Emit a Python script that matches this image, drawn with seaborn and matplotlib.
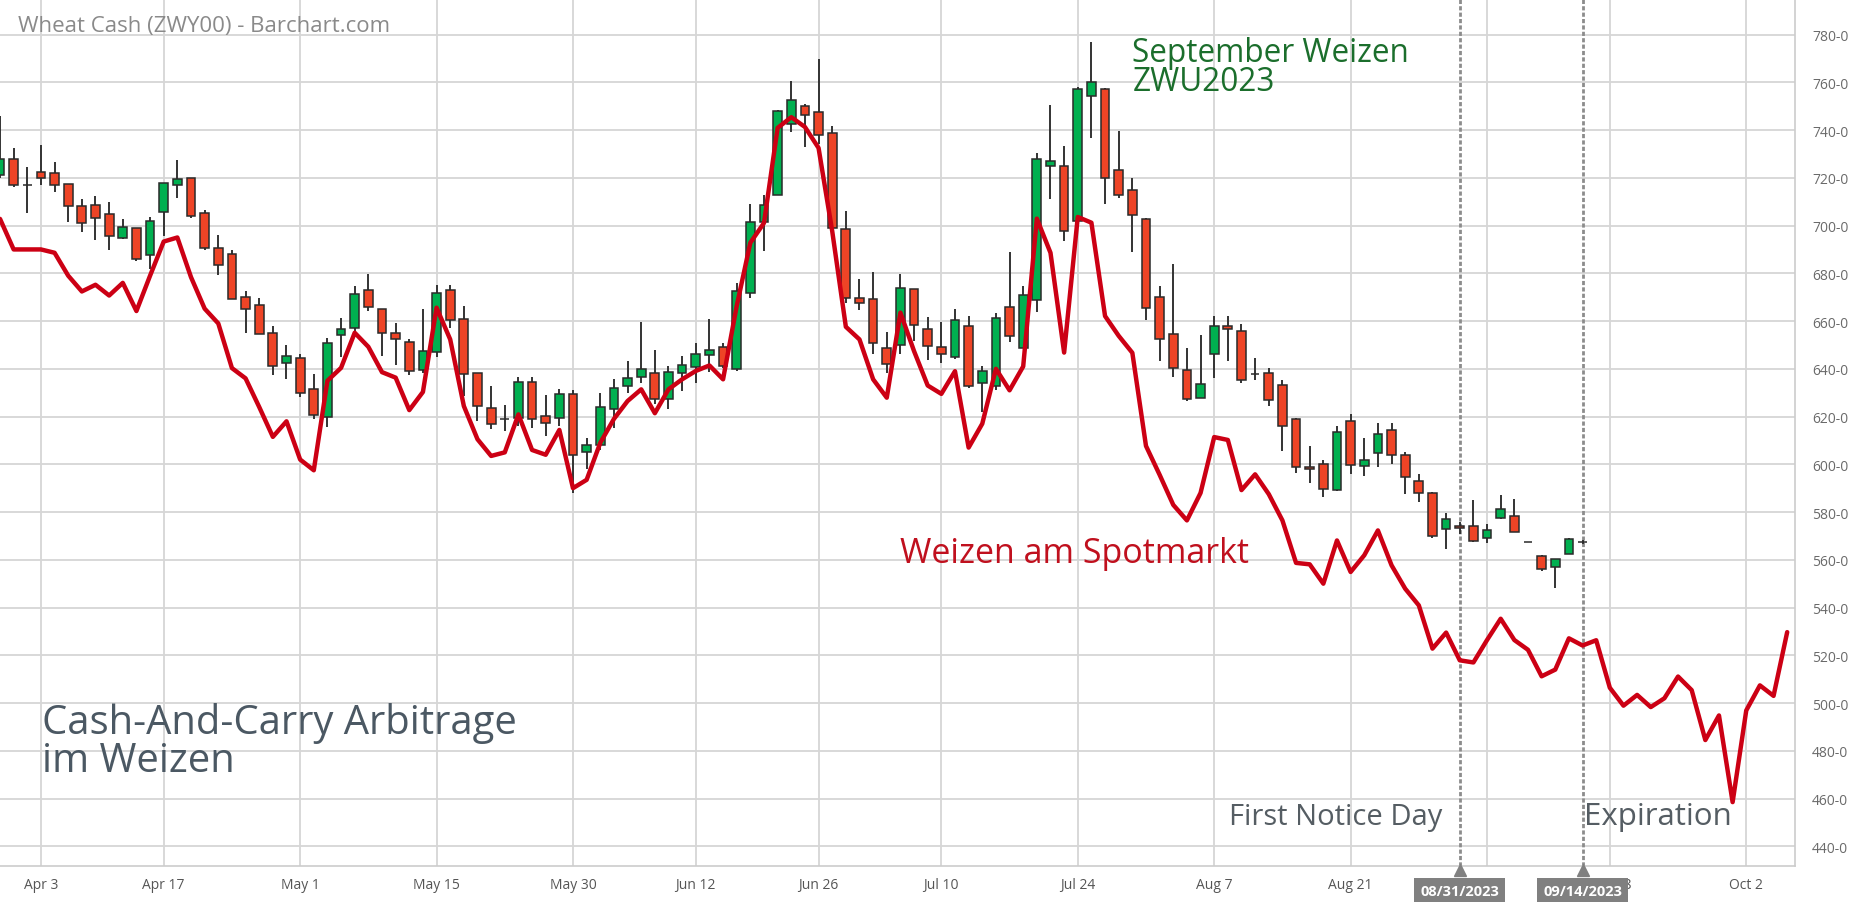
import numpy as np
import pandas as pd
import matplotlib
matplotlib.use("Agg")
import matplotlib.pyplot as plt
import matplotlib.transforms as mtransforms
import seaborn as sns

# trading days shown on the chart (CBOT, holidays skipped)
holidays = ["2023-04-07", "2023-05-29", "2023-06-19", "2023-07-04", "2023-09-04"]
days = pd.bdate_range("2023-03-29", "2023-10-05", freq="C", holidays=holidays)

# September wheat futures ZWU2023 (candles, until expiration)
fut_open = [721, 728, 717, 722.3, 722, 717.6, 708.3, 708.7, 705, 694.7,
            698.9, 687.8, 705.6, 716.8, 720, 705.2, 690.5, 688.2, 670, 666.8,
            655, 642.3, 644.6, 631.7, 620, 654, 657.2, 673.2, 665.1, 654.8,
            651.2, 639.7, 647, 673.2, 660.7, 638.4, 623.6, 618.8, 619.5, 634.6,
            620.2, 619.4, 629.6, 605, 608, 623, 632.8, 636.7, 638.4, 627.2,
            638.1, 640.9, 645.9, 649.3, 639.8, 671.9, 701.4, 713, 742.6, 750.2,
            747.4, 738.8, 698.4, 669.8, 669.1, 648.8, 649.8, 673.5, 656.8, 649.3,
            645.1, 658, 634, 633, 666, 648.9, 668.8, 724.9, 724.9, 701.9,
            754.2, 757, 723.2, 714.7, 702.6, 670.1, 654.6, 639.5, 627.9, 646.2,
            658, 655.8, 637.8, 638.4, 633.2, 619, 599, 600.2, 589.3, 618.3,
            599.3, 604.6, 614.5, 604, 593.2, 588.1, 573, 574, 574, 569.1,
            577.5, 578.3, 567.4, 561.6, 557.1, 562.6, 567.5]
fut_high = [746, 732.4, 724.4, 733.8, 726.5, 717.6, 711.2, 712.2, 710, 702.7,
            698.9, 703.5, 717.9, 727.4, 720, 706.6, 696.1, 689.6, 672.4, 669.6,
            657.9, 649.8, 646, 637.7, 653, 661.4, 674.6, 679.9, 665.1, 659,
            652.3, 664.9, 674.9, 675.2, 666.2, 638.4, 632.8, 625, 636.5, 636.5,
            628.9, 631.7, 631, 611, 630, 635.6, 643.3, 659.6, 647.9, 641.2,
            645.4, 650.7, 661, 650.7, 676, 709.2, 713, 748.6, 760.4, 751.1,
            769.9, 741.6, 706, 677.7, 680.5, 655.4, 679.8, 673.5, 661.9, 659.8,
            665.2, 662, 641.2, 663.3, 689, 674.7, 730.5, 750.7, 733.3, 758,
            776.9, 757.5, 739.8, 720, 703, 674.7, 683.8, 648.6, 654.1, 662,
            662, 658.6, 644.4, 640.2, 635.3, 619.3, 607.7, 601.6, 616.2, 621,
            610.9, 617.2, 617.5, 605, 596, 588.6, 579.6, 576, 585.2, 575.1,
            587.3, 585.3, 567.4, 562, 560.5, 569, 568.5]
fut_low = [720, 716, 705.2, 716.8, 714, 701.4, 697.5, 694, 689.6, 694.4,
           685, 681.6, 695.6, 711.5, 703.1, 689.6, 679.1, 669.3, 655.1, 654.6,
           637.5, 635.9, 628, 619.1, 615.8, 645, 655, 664.2, 645.3, 641.4,
           637.2, 638.1, 645, 657, 628.6, 618.1, 614.6, 614, 616, 615.3,
           611.9, 616, 588, 598, 606, 615.4, 630, 634.2, 625.1, 623,
           630.7, 634.2, 638.7, 640.5, 639.1, 669.8, 689.3, 713, 739.1, 732.9,
           734, 698, 667.7, 664.6, 646, 638.1, 646, 651.6, 643.7, 642.3,
           644, 632, 622, 631, 651.3, 648.9, 663.8, 711.2, 693.5, 700,
           736.5, 709.1, 711.7, 689.1, 660.3, 643.3, 636.7, 626.5, 627.9, 636.3,
           643.3, 633.9, 635.3, 624.6, 605.6, 596.3, 592.1, 586.5, 588.9, 595.8,
           594.9, 599, 600, 587.7, 584.2, 569.1, 564.7, 571, 567.4, 567.2,
           576.9, 571.6, 567.4, 555.5, 548, 562.6, 566.5]
fut_close = [728, 716.8, 717, 719.8, 716.8, 708.4, 700.9, 703.1, 695.6, 699.6,
             686.1, 702.1, 717.9, 719.6, 704.2, 690.5, 683.3, 669.3, 665.2, 654.6,
             641.2, 645.4, 630, 620.5, 650.6, 656.8, 671.4, 665.8, 655.1, 652.6,
             639.1, 647.3, 671.8, 660.3, 637.7, 624.4, 617, 618.8, 634.4, 618.8,
             617.2, 629.6, 604, 608, 624.2, 632.1, 636.3, 640.1, 627.5, 638.8,
             641.8, 646, 647.9, 641.2, 672.6, 701.4, 708.7, 748.1, 752.5, 746.5,
             738.1, 699.1, 669.8, 667.4, 650.9, 641.9, 674, 658.2, 649.6, 646.1,
             660.3, 633, 639, 661.4, 653.8, 670.8, 727.7, 727, 697.6, 757.4,
             760.2, 720, 712.6, 704.3, 665.6, 652.4, 640.5, 627.4, 633.5, 657.9,
             656.5, 635.2, 637.8, 626.9, 616.2, 598.8, 598, 589.7, 613.7, 599.5,
             602, 612.7, 604, 594.5, 588.1, 570, 576.9, 573.3, 567.7, 572.6,
             581.1, 571.6, 567.4, 556.3, 560.2, 568.9, 567.5]

# wheat cash price (spot)
spot = [702.8, 690, 690, 690, 688.6, 679, 672.4, 675.2, 670.7, 676,
        664.2, 679, 693.3, 695, 678.4, 665.2, 659, 640.3, 636, 624,
        611.5, 618, 602, 597.5, 635, 640.4, 655.1, 649.2, 638.6, 636.3,
        622.7, 630.3, 665.6, 652.3, 624.4, 610.5, 603.5, 605, 620.9, 606,
        604, 614.4, 590, 593.5, 609, 619, 626.5, 631.4, 621.4, 631.4,
        635.6, 639.1, 641.4, 635.6, 666.3, 692.8, 701.1, 740.9, 745.4, 741.3,
        732.5, 697.7, 657.6, 652.3, 635.6, 627.9, 663.5, 647.4, 633, 629.5,
        639, 607, 617, 640, 631, 641, 702.9, 688.6, 646.8, 703.6,
        701.2, 662.1, 653.8, 646.7, 607.7, 595.6, 583, 576.5, 588, 611.4,
        610.2, 589.2, 595.8, 587.5, 576.5, 558.7, 558.1, 550, 568.1, 554.9,
        561.9, 572.3, 557.7, 547.9, 540.9, 522.8, 529.5, 517.9, 517, 526.4,
        535.3, 526.4, 522.3, 511.2, 514, 527.1, 524.1, 526.3, 506.4, 498.9,
        503.4, 498.3, 502, 511.1, 505.4, 484.5, 494.8, 458.5, 496.9, 507.4,
        503, 529.7]

tick_dates = ["2023-04-03", "2023-04-17", "2023-05-01", "2023-05-15", "2023-05-30",
              "2023-06-12", "2023-06-26", "2023-07-10", "2023-07-24", "2023-08-07",
              "2023-08-21", "2023-09-05", "2023-09-18", "2023-10-02"]
# Sep 5 sits under the 08/31 marker box, so it gets no text
tick_labels = ["Apr 3", "Apr 17", "May 1", "May 15", "May 30", "Jun 12", "Jun 26",
               "Jul 10", "Jul 24", "Aug 7", "Aug 21", "", "Sep 18", "Oct 2"]
y_ticks = list(range(440, 781, 20))

first_notice = "2023-08-31"
expiration = "2023-09-14"

fut = pd.DataFrame({"open": fut_open, "high": fut_high, "low": fut_low, "close": fut_close})
fut["x"] = np.arange(len(fut))
cash = pd.DataFrame({"day": np.arange(len(spot)), "price": spot})

sns.set_theme(style="white")
plt.rcParams["font.family"] = ["Open Sans", "DejaVu Sans"]

fig = plt.figure(figsize=(18.63, 9.03), dpi=100)
ax = fig.add_axes([0.0, 0.0395, 0.9637, 0.9605])

# grid
for v in y_ticks:
    ax.axhline(v, color="#d6d6d6", lw=1.3, zorder=0)
tick_pos = [days.get_loc(pd.Timestamp(d)) for d in tick_dates]
for p in tick_pos:
    ax.axvline(p, color="#d6d6d6", lw=1.3, zorder=0)

# candles
up = fut["close"] >= fut["open"]
colors = np.where(up, "#00b050", "#ee4426")
ax.vlines(fut["x"], fut["low"], fut["high"], color="#333333", lw=1.4, zorder=2)
ax.bar(fut["x"], fut["close"] - fut["open"], bottom=fut["open"], width=0.64,
       color=colors, edgecolor="#2a2a2a", linewidth=1.1, zorder=3)

# cash line
sns.lineplot(data=cash, x="day", y="price", color="#cc0014", lw=3.2, ax=ax, zorder=4)

# first notice day / expiration markers
trans = mtransforms.blended_transform_factory(ax.transData, ax.transAxes)
for d, lab in [(first_notice, "08/31/2023"), (expiration, "09/14/2023")]:
    p = days.get_loc(pd.Timestamp(d))
    ax.axvline(p, color="#8c8c8c", lw=2, ls=(0, (1.5, 0.8)), zorder=1)
    ax.text(p, -0.028, lab, transform=trans, ha="center", va="center",
            fontsize=10.5, fontweight="bold", color="white", zorder=10, clip_on=False,
            bbox=dict(boxstyle="square,pad=0.4", fc="#808080", ec="none"))
    ax.plot([p], [-0.004], transform=trans, marker="^", ms=8, color="#808080",
            clip_on=False, zorder=10)

# annotations
ax.text(0.0099, 0.970, "Wheat Cash (ZWY00) - Barchart.com", transform=ax.transAxes,
        fontsize=16, color="#8a8a8a", va="center", ha="left")
ax.text(83.0, 769, "September Weizen", fontsize=22.7, color="#1b6e2c", va="baseline")
ax.text(83.0, 756.6, "ZWU2023", fontsize=22.7, color="#1b6e2c", va="baseline")
ax.text(66.0, 559, "Weizen am Spotmarkt", fontsize=24.5, color="#c0101e", va="baseline")
ax.text(3.07, 487.3, "Cash-And-Carry Arbitrage", fontsize=28.8, color="#4b5863", va="baseline")
ax.text(3.07, 471.4, "im Weizen", fontsize=28.8, color="#4b5863", va="baseline")
ax.text(105.7, 449.5, "First Notice Day", fontsize=21, color="#555d63", va="baseline", ha="right")
ax.text(116.1, 449.5, "Expiration", fontsize=22.5, color="#555d63", va="baseline")

# axes
ax.set_xlim(0.0, 131.6)
ax.set_ylim(431.6, 794.9)
ax.set_xticks(tick_pos)
ax.set_xticklabels(tick_labels)
ax.set_yticks(y_ticks)
ax.set_yticklabels([f"{v}-0" for v in y_ticks])
ax.yaxis.tick_right()
ax.tick_params(axis="y", length=0, pad=12, labelsize=10, labelcolor="#6a6a6a")
ax.tick_params(axis="x", length=0, pad=8, labelsize=10, labelcolor="#555555")
ax.set_xlabel("")
ax.set_ylabel("")
for s in ["top", "left"]:
    ax.spines[s].set_visible(False)
for s in ["right", "bottom"]:
    ax.spines[s].set_color("#cccccc")
    ax.spines[s].set_linewidth(1.2)

fig.savefig("out.png", dpi=100)
